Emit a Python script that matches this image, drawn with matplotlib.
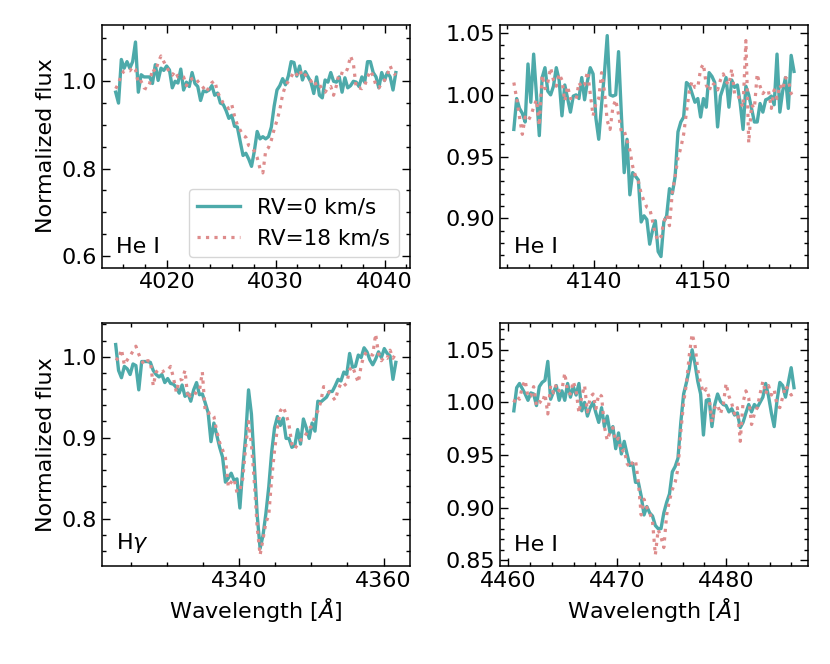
import matplotlib
matplotlib.use("Agg")
import matplotlib.pyplot as plt
from matplotlib.ticker import MultipleLocator, AutoMinorLocator

# ---- He I 4026 ----
wl_4026 = [4015.30, 4015.56, 4015.82, 4016.08, 4016.34, 4016.60, 4016.86, 4017.12, 4017.38, 4017.64,
           4017.90, 4018.16, 4018.42, 4018.68, 4018.94, 4019.20, 4019.46, 4019.72, 4019.98, 4020.24,
           4020.50, 4020.76, 4021.02, 4021.28, 4021.54, 4021.80, 4022.06, 4022.32, 4022.58, 4022.84,
           4023.10, 4023.36, 4023.62, 4023.88, 4024.14, 4024.40, 4024.66, 4024.92, 4025.18, 4025.44,
           4025.70, 4025.96, 4026.22, 4026.48, 4026.74, 4027.00, 4027.26, 4027.52, 4027.78, 4028.04,
           4028.30, 4028.56, 4028.82, 4029.08, 4029.34, 4029.60, 4029.86, 4030.12, 4030.38, 4030.64,
           4030.90, 4031.16, 4031.42, 4031.68, 4031.94, 4032.20, 4032.46, 4032.72, 4032.98, 4033.24,
           4033.50, 4033.76, 4034.02, 4034.28, 4034.54, 4034.80, 4035.06, 4035.32, 4035.58, 4035.84,
           4036.10, 4036.36, 4036.62, 4036.88, 4037.14, 4037.40, 4037.66, 4037.92, 4038.18, 4038.44,
           4038.70, 4038.96, 4039.22, 4039.48, 4039.74, 4040.00, 4040.26, 4040.52, 4040.78, 4041.04]
rv0_4026 = [0.975, 0.950, 1.050, 1.030, 1.045, 1.030, 1.045, 1.090, 0.975, 1.015,
            1.010, 1.010, 1.010, 0.995, 1.038, 1.002, 1.030, 1.025, 1.035, 1.026,
            0.985, 1.000, 0.996, 1.028, 0.980, 0.998, 0.988, 1.020, 0.995, 0.988,
            0.956, 0.978, 0.976, 0.980, 0.990, 0.968, 0.973, 0.950, 0.947, 0.933,
            0.915, 0.922, 0.897, 0.895, 0.862, 0.830, 0.835, 0.822, 0.805, 0.840,
            0.885, 0.868, 0.873, 0.868, 0.873, 0.895, 0.943, 0.980, 0.990, 1.006,
            0.992, 1.012, 1.045, 1.043, 1.012, 1.035, 1.003, 1.022, 1.010, 0.998,
            0.972, 1.010, 0.968, 0.962, 1.003, 0.998, 1.020, 1.000, 0.998, 1.010,
            0.975, 1.008, 0.985, 0.990, 1.000, 0.998, 0.988, 1.010, 0.998, 1.045,
            1.045, 1.020, 1.010, 0.985, 1.020, 1.002, 1.020, 1.010, 0.980, 1.020]
rv18_4026 = [0.983, 0.995, 1.015, 1.024, 1.025, 1.024, 1.033, 1.027, 0.995, 1.000,
             0.985, 0.982, 0.995, 1.029, 1.022, 1.043, 1.058, 1.045, 1.033, 1.020,
             1.014, 1.023, 1.010, 1.012, 1.010, 0.990, 1.002, 1.006, 1.009, 1.000,
             0.993, 0.985, 0.975, 0.987, 0.997, 1.001, 0.975, 0.962, 0.950, 0.944,
             0.937, 0.947, 0.920, 0.900, 0.888, 0.876, 0.872, 0.853, 0.850, 0.840,
             0.825, 0.800, 0.790, 0.840, 0.848, 0.865, 0.890, 0.910, 0.935, 0.970,
             0.990, 1.000, 1.010, 1.022, 1.015, 1.026, 1.010, 1.015, 1.008, 1.000,
             1.005, 0.988, 0.992, 0.982, 0.975, 0.985, 0.988, 0.968, 0.990, 1.020,
             1.018, 1.016, 1.030, 1.058, 1.040, 0.985, 0.985, 0.983, 0.990, 1.010,
             1.024, 1.012, 0.990, 0.985, 0.995, 1.002, 1.015, 1.035, 1.020, 1.014]

# ---- He I 4144 ----
wl_4144 = [4132.60, 4132.86, 4133.12, 4133.38, 4133.64, 4133.90, 4134.16, 4134.42, 4134.68, 4134.94,
           4135.20, 4135.46, 4135.72, 4135.98, 4136.24, 4136.50, 4136.76, 4137.02, 4137.28, 4137.54,
           4137.80, 4138.06, 4138.32, 4138.58, 4138.84, 4139.10, 4139.36, 4139.62, 4139.88, 4140.14,
           4140.40, 4140.66, 4140.92, 4141.18, 4141.44, 4141.70, 4141.96, 4142.22, 4142.48, 4142.74,
           4143.00, 4143.26, 4143.52, 4143.78, 4144.04, 4144.30, 4144.56, 4144.82, 4145.08, 4145.34,
           4145.60, 4145.86, 4146.12, 4146.38, 4146.64, 4146.90, 4147.16, 4147.42, 4147.68, 4147.94,
           4148.20, 4148.46, 4148.72, 4148.98, 4149.24, 4149.50, 4149.76, 4150.02, 4150.28, 4150.54,
           4150.80, 4151.06, 4151.32, 4151.58, 4151.84, 4152.10, 4152.36, 4152.62, 4152.88, 4153.14,
           4153.40, 4153.66, 4153.92, 4154.18, 4154.44, 4154.70, 4154.96, 4155.22, 4155.48, 4155.74,
           4156.00, 4156.26, 4156.52, 4156.78, 4157.04, 4157.30, 4157.56, 4157.82, 4158.08, 4158.34]
rv0_4144 = [0.972, 0.997, 0.989, 0.985, 0.978, 1.025, 0.994, 1.033, 1.000, 0.967,
            1.014, 1.022, 1.003, 1.000, 1.007, 1.022, 1.012, 0.983, 1.008, 0.997,
            0.986, 0.999, 1.000, 0.997, 1.014, 0.996, 1.011, 1.022, 1.017, 0.981,
            0.964, 0.992, 1.017, 1.048, 1.000, 0.999, 1.000, 1.035, 0.984, 0.937,
            0.964, 0.919, 0.937, 0.934, 0.931, 0.897, 0.902, 0.899, 0.879, 0.890,
            0.898, 0.873, 0.869, 0.897, 0.902, 0.924, 0.920, 0.934, 0.970, 0.978,
            0.982, 1.010, 1.008, 1.001, 0.994, 0.997, 0.982, 0.997, 0.990, 1.018,
            1.015, 1.010, 0.974, 0.999, 1.006, 1.014, 0.990, 1.012, 1.006, 1.008,
            0.993, 0.972, 1.007, 1.000, 0.989, 0.978, 0.978, 0.993, 0.986, 0.996,
            0.997, 0.999, 0.992, 1.033, 0.986, 1.003, 1.014, 0.989, 1.032, 1.019]
rv18_4144 = [1.010, 0.997, 0.982, 0.968, 0.982, 0.979, 0.983, 0.990, 0.996, 0.975,
             1.016, 1.005, 1.010, 1.022, 1.012, 1.007, 1.017, 1.012, 0.995, 1.007,
             0.997, 0.997, 0.996, 1.010, 1.006, 1.008, 1.019, 1.001, 0.983, 0.993,
             0.997, 1.018, 1.003, 0.979, 0.972, 0.990, 0.996, 0.984, 0.970, 0.971,
             0.963, 0.955, 0.942, 0.934, 0.930, 0.920, 0.914, 0.909, 0.908, 0.898,
             0.887, 0.882, 0.885, 0.897, 0.903, 0.894, 0.921, 0.934, 0.949, 0.957,
             0.968, 0.986, 1.003, 1.011, 1.006, 1.006, 1.021, 1.025, 1.008, 1.003,
             1.010, 1.008, 1.004, 1.012, 1.017, 1.011, 1.008, 1.021, 1.001, 1.001,
             0.995, 0.990, 1.044, 0.961, 0.992, 0.989, 1.017, 1.007, 1.001, 1.004,
             1.003, 0.989, 1.004, 0.997, 1.008, 1.004, 1.014, 1.012, 1.001, 0.998]

# ---- H gamma ----
wl_hg = [4322.9, 4323.3, 4323.7, 4324.1, 4324.5, 4324.9, 4325.3, 4325.7, 4326.1, 4326.5,
         4326.9, 4327.3, 4327.7, 4328.1, 4328.5, 4328.9, 4329.3, 4329.7, 4330.1, 4330.5,
         4330.9, 4331.3, 4331.7, 4332.1, 4332.5, 4332.9, 4333.3, 4333.7, 4334.1, 4334.5,
         4334.9, 4335.3, 4335.7, 4336.1, 4336.5, 4336.9, 4337.3, 4337.7, 4338.1, 4338.5,
         4338.9, 4339.3, 4339.7, 4340.1, 4340.5, 4340.9, 4341.3, 4341.7, 4342.1, 4342.5,
         4342.9, 4343.3, 4343.7, 4344.1, 4344.5, 4344.9, 4345.3, 4345.7, 4346.1, 4346.5,
         4346.9, 4347.3, 4347.7, 4348.1, 4348.5, 4348.9, 4349.3, 4349.7, 4350.1, 4350.5,
         4350.9, 4351.3, 4351.7, 4352.1, 4352.5, 4352.9, 4353.3, 4353.7, 4354.1, 4354.5,
         4354.9, 4355.3, 4355.7, 4356.1, 4356.5, 4356.9, 4357.3, 4357.7, 4358.1, 4358.5,
         4358.9, 4359.3, 4359.7, 4360.1, 4360.5, 4360.9, 4361.3, 4361.7]
rv0_hg = [1.015, 0.983, 0.974, 0.988, 0.985, 0.978, 0.991, 0.989, 0.959, 0.994,
          0.994, 0.994, 0.993, 0.983, 0.978, 0.975, 0.978, 0.968, 0.973, 0.967,
          0.966, 0.962, 0.955, 0.965, 0.951, 0.955, 0.945, 0.959, 0.968, 0.953,
          0.954, 0.943, 0.931, 0.895, 0.918, 0.903, 0.888, 0.876, 0.845, 0.850,
          0.856, 0.847, 0.849, 0.813, 0.862, 0.901, 0.959, 0.929, 0.867, 0.804,
          0.763, 0.779, 0.806, 0.839, 0.882, 0.912, 0.926, 0.915, 0.924, 0.899,
          0.899, 0.888, 0.890, 0.910, 0.892, 0.923, 0.912, 0.899, 0.918, 0.908,
          0.945, 0.944, 0.947, 0.950, 0.957, 0.957, 0.964, 0.972, 0.970, 0.981,
          0.978, 1.004, 0.987, 0.988, 1.002, 0.999, 1.011, 1.006, 0.996, 0.990,
          0.997, 1.006, 0.999, 1.010, 1.004, 1.001, 0.972, 0.993]
rv18_hg = [0.998, 0.996, 1.009, 0.990, 0.996, 1.001, 1.007, 1.013, 1.003, 0.995,
           0.990, 0.995, 0.995, 0.964, 0.981, 0.984, 0.981, 0.983, 0.983, 0.988,
           0.974, 0.956, 0.971, 0.972, 0.983, 0.948, 0.953, 0.951, 0.957, 0.958,
           0.981, 0.932, 0.930, 0.931, 0.926, 0.908, 0.894, 0.885, 0.875, 0.839,
           0.845, 0.849, 0.832, 0.835, 0.849, 0.888, 0.920, 0.892, 0.845, 0.789,
           0.755, 0.774, 0.795, 0.804, 0.849, 0.884, 0.912, 0.933, 0.938, 0.929,
           0.916, 0.892, 0.886, 0.892, 0.897, 0.898, 0.905, 0.911, 0.915, 0.927,
           0.933, 0.944, 0.963, 0.961, 0.955, 0.951, 0.946, 0.959, 0.967, 0.964,
           0.967, 0.984, 0.988, 0.978, 0.968, 0.989, 1.002, 1.006, 1.003, 1.002,
           1.028, 1.004, 0.995, 1.000, 0.998, 1.008, 0.998, 1.004]

# ---- He I 4471 ----
wl_4471 = [4460.50, 4460.76, 4461.02, 4461.28, 4461.54, 4461.80, 4462.06, 4462.32, 4462.58, 4462.84,
           4463.10, 4463.36, 4463.62, 4463.88, 4464.14, 4464.40, 4464.66, 4464.92, 4465.18, 4465.44,
           4465.70, 4465.96, 4466.22, 4466.48, 4466.74, 4467.00, 4467.26, 4467.52, 4467.78, 4468.04,
           4468.30, 4468.56, 4468.82, 4469.08, 4469.34, 4469.60, 4469.86, 4470.12, 4470.38, 4470.64,
           4470.90, 4471.16, 4471.42, 4471.68, 4471.94, 4472.20, 4472.46, 4472.72, 4472.98, 4473.24,
           4473.50, 4473.76, 4474.02, 4474.28, 4474.54, 4474.80, 4475.06, 4475.32, 4475.58, 4475.84,
           4476.10, 4476.36, 4476.62, 4476.88, 4477.14, 4477.40, 4477.66, 4477.92, 4478.18, 4478.44,
           4478.70, 4478.96, 4479.22, 4479.48, 4479.74, 4480.00, 4480.26, 4480.52, 4480.78, 4481.04,
           4481.30, 4481.56, 4481.82, 4482.08, 4482.34, 4482.60, 4482.86, 4483.12, 4483.38, 4483.64,
           4483.90, 4484.16, 4484.42, 4484.68, 4484.94, 4485.20, 4485.46, 4485.72, 4485.98, 4486.24]
rv0_4471 = [0.992, 1.014, 1.018, 1.013, 1.008, 1.002, 1.009, 1.008, 0.997, 1.015,
            1.019, 1.021, 1.039, 1.003, 1.010, 1.016, 1.002, 1.011, 1.002, 1.018,
            1.005, 1.015, 1.007, 1.018, 0.992, 1.000, 0.987, 0.995, 1.000, 0.990,
            0.981, 0.995, 0.977, 0.987, 0.971, 0.977, 0.956, 0.971, 0.951, 0.963,
            0.951, 0.940, 0.942, 0.924, 0.924, 0.911, 0.893, 0.901, 0.895, 0.892,
            0.883, 0.880, 0.880, 0.895, 0.905, 0.913, 0.934, 0.939, 0.947, 0.981,
            1.008, 1.019, 1.032, 1.050, 1.037, 1.020, 1.008, 0.969, 1.002, 1.003,
            0.977, 0.998, 1.008, 1.001, 0.998, 0.997, 0.991, 0.994, 0.988, 0.990,
            0.976, 0.981, 0.990, 0.998, 0.991, 0.998, 0.995, 1.000, 1.005, 1.018,
            1.006, 0.990, 0.977, 1.002, 1.019, 1.016, 1.005, 1.019, 1.033, 1.014]
rv18_4471 = [1.000, 1.006, 1.003, 1.015, 1.021, 1.005, 1.006, 1.015, 0.997, 1.001,
             0.999, 1.008, 0.989, 1.016, 1.009, 1.017, 1.011, 1.012, 1.028, 1.010,
             1.008, 1.020, 1.011, 0.990, 1.006, 1.016, 0.991, 1.005, 1.008, 0.994,
             1.008, 1.006, 0.977, 0.964, 0.972, 0.976, 0.963, 0.966, 0.953, 0.955,
             0.942, 0.938, 0.943, 0.945, 0.924, 0.893, 0.908, 0.900, 0.895, 0.887,
             0.855, 0.879, 0.872, 0.862, 0.893, 0.907, 0.917, 0.924, 0.937, 0.972,
             1.000, 1.018, 1.045, 1.065, 1.055, 1.031, 1.018, 1.009, 1.013, 1.005,
             0.981, 0.995, 0.998, 0.989, 0.998, 1.018, 1.006, 0.999, 0.989, 0.995,
             0.963, 1.000, 1.011, 1.004, 0.979, 0.989, 0.995, 1.008, 1.020, 1.008,
             1.016, 1.007, 1.012, 0.997, 0.995, 1.005, 1.016, 1.012, 1.007, 1.009]

line_names = ["He I", "He I", r"H$\gamma$", "He I"]
x_major = [10, 10, 20, 10]
y_major = [0.2, 0.05, 0.1, 0.05]

teal = "#4daaaa"
pink = "#de8c8c"
fs = 16

plt.rcParams["font.size"] = fs
plt.rcParams["mathtext.fontset"] = "dejavusans"

fig, axes = plt.subplots(2, 2, figsize=(8.3, 6.64), dpi=100)
fig.subplots_adjust(left=0.1225, right=0.9735, top=0.963, bottom=0.1476,
                    hspace=0.228, wspace=0.292)

panels = [(wl_4026, rv0_4026, rv18_4026), (wl_4144, rv0_4144, rv18_4144),
          (wl_hg, rv0_hg, rv18_hg), (wl_4471, rv0_4471, rv18_4471)]

for k, ax in enumerate(axes.flat):
    wl, f0, f18 = panels[k]
    ax.plot(wl, f0, color=teal, lw=2.4, label="RV=0 km/s")
    ax.plot(wl, f18, color=pink, lw=2.3, ls=":", label="RV=18 km/s")
    ax.text(0.045, 0.045, line_names[k], transform=ax.transAxes, fontsize=fs,
            ha="left", va="bottom")
    ax.xaxis.set_major_locator(MultipleLocator(x_major[k]))
    ax.yaxis.set_major_locator(MultipleLocator(y_major[k]))
    ax.xaxis.set_minor_locator(AutoMinorLocator())
    ax.yaxis.set_minor_locator(AutoMinorLocator())
    ax.tick_params(which="both", direction="in", top=True, right=True,
                   labelsize=fs, width=1.0)
    ax.tick_params(which="major", length=5.5)
    ax.tick_params(which="minor", length=3)
    for s in ax.spines.values():
        s.set_linewidth(1.1)

axes[0, 0].set_ylim(0.573, 1.13)
axes[0, 0].legend(loc="lower right", fontsize=15.5, handlelength=2.0)
axes[0, 0].set_ylabel("Normalized flux")
axes[1, 0].set_ylabel("Normalized flux")
axes[1, 0].set_xlabel(r"Wavelength [$\AA$]")
axes[1, 1].set_xlabel(r"Wavelength [$\AA$]")

fig.savefig("out.png", dpi=100)
